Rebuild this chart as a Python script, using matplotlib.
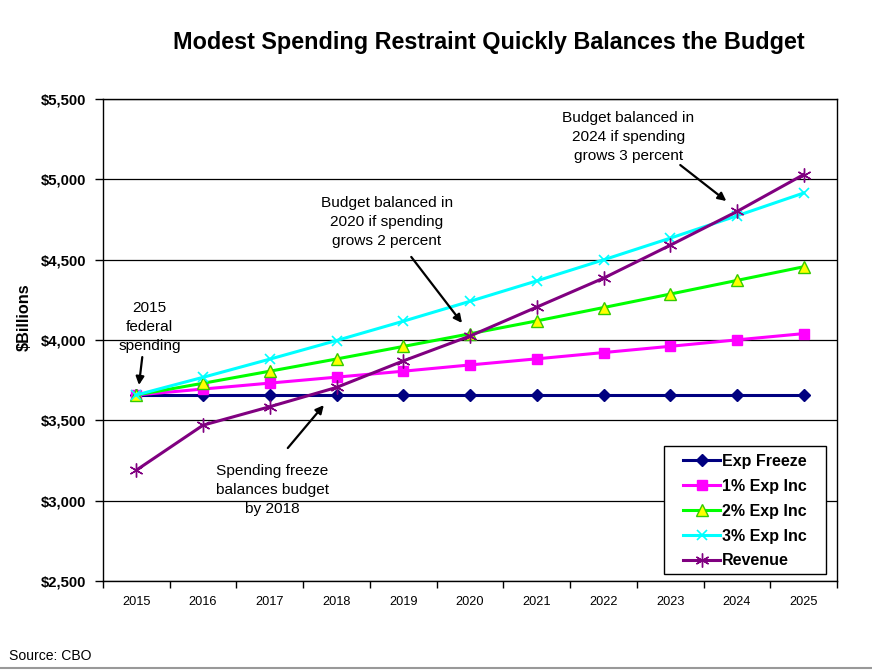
import numpy as np
import matplotlib
matplotlib.use('Agg')
from matplotlib import pyplot as plt
from matplotlib.lines import Line2D
from matplotlib.patches import Rectangle

plt.rcParams['font.family'] = ['Liberation Sans', 'DejaVu Sans']

years = [2015, 2016, 2017, 2018, 2019, 2020, 2021, 2022, 2023, 2024, 2025]

# $ billions
exp_freeze = [3658, 3658, 3658, 3658, 3658, 3658, 3658, 3658, 3658, 3658, 3658]
exp_inc_1 = [3658, 3695, 3732, 3769, 3806, 3845, 3883, 3922, 3961, 4001, 4040]
exp_inc_2 = [3658, 3731, 3806, 3882, 3960, 4039, 4119, 4202, 4286, 4371, 4456]
exp_inc_3 = [3658, 3768, 3881, 3997, 4117, 4241, 4368, 4499, 4634, 4773, 4915]
revenue = [3190, 3470, 3585, 3705, 3870, 4025, 4205, 4385, 4590, 4800, 5030]

y_ticks = [2500, 3000, 3500, 4000, 4500, 5000, 5500]

fig = plt.figure(figsize=(8.72, 6.71), dpi=100)
ax = fig.add_axes([0.118, 0.134, 0.842, 0.7185])

lw = 2.2
ax.plot(years, exp_freeze, color='#000080', lw=lw, marker='D', ms=6.5,
        label='Exp Freeze', zorder=3)
ax.plot(years, exp_inc_1, color='#FF00FF', lw=lw, marker='s', ms=7.5,
        label='1% Exp Inc', zorder=4)
ax.plot(years, exp_inc_2, color='#00FF00', lw=lw, marker='^', ms=8,
        mfc='#FFFF00', mec='#33CC00', mew=1, label='2% Exp Inc', zorder=5)
ax.plot(years, exp_inc_3, color='#00FFFF', lw=lw, marker='x', ms=7,
        mew=1.2, label='3% Exp Inc', zorder=6)
ax.plot(years, revenue, color='#800080', lw=lw, marker=(6, 2, 0), ms=10,
        mew=1, label='Revenue', zorder=7)

ax.set_xlim(2014.5, 2025.5)
ax.set_ylim(2500, 5500)
ax.set_yticks(y_ticks)
ax.set_yticklabels(['${:,}'.format(v) for v in y_ticks], fontsize=10.7,
                   fontweight='bold')
ax.set_xticks(np.arange(2014.5, 2025.6, 1))
ax.set_xticklabels([])
ax.set_xticks(years, minor=True)
ax.set_xticklabels([str(y) for y in years], minor=True, fontsize=9.2)
ax.tick_params(axis='x', which='minor', length=0, pad=11)
ax.tick_params(axis='x', which='major', length=5, direction='out', width=1)
ax.tick_params(axis='y', length=6, direction='out', width=1, pad=6)
ax.grid(axis='y', color='black', lw=0.9)
ax.set_axisbelow(True)
for s in ax.spines.values():
    s.set_color('black')
    s.set_linewidth(1)

# legend box drawn separately so the padding can be wider than tall
box = Rectangle((0.764, 0.0145), 0.221, 0.2655, transform=ax.transAxes,
                facecolor='white', edgecolor='black', lw=1, zorder=9)
ax.add_patch(box)
leg = ax.legend(loc='center', bbox_to_anchor=(0.8745, 0.145),
                frameon=False, prop={'weight': 'bold', 'size': 11.5},
                handlelength=2.3, handletextpad=0.1, labelspacing=0.62,
                borderpad=0.2)
leg.set_zorder(10)

# annotations
notes = [
    ('2015\nfederal\nspending', (2015.2, 4081), (2015.09, 3894), (2015.04, 3720)),
    ('Budget balanced in\n2020 if spending\ngrows 2 percent', (2018.75, 4734),
     (2019.12, 4517), (2019.88, 4106)),
    ('Budget balanced in\n2024 if spending\ngrows 3 percent', (2022.37, 5263),
     (2023.15, 5089), (2023.84, 4865)),
    ('Spending freeze\nbalances budget\nby 2018', (2017.04, 3066),
     (2017.27, 3328), (2017.81, 3595)),
]
for txt, pos, tail, tip in notes:
    ax.text(pos[0], pos[1], txt, ha='center', va='center', fontsize=11.1,
            linespacing=1.45, zorder=8)
    ax.annotate('', xy=tip, xytext=tail,
                arrowprops=dict(arrowstyle='-|>', color='black', lw=1.6,
                                mutation_scale=12, shrinkA=0, shrinkB=0),
                zorder=8)

fig.text(0.561, 0.936, 'Modest Spending Restraint Quickly Balances the Budget',
         ha='center', va='center', fontsize=16.8, fontweight='bold')
fig.text(0.028, 0.528, '$Billions', rotation=90, ha='center', va='center',
         fontsize=11.7, fontweight='bold')
fig.text(0.01, 1 - 656 / 671, 'Source: CBO', ha='left', va='center', fontsize=10.1)
fig.add_artist(Line2D([0, 1], [0.004, 0.004], color='#999999', lw=1.5))

plt.savefig('out.png', dpi=100)
